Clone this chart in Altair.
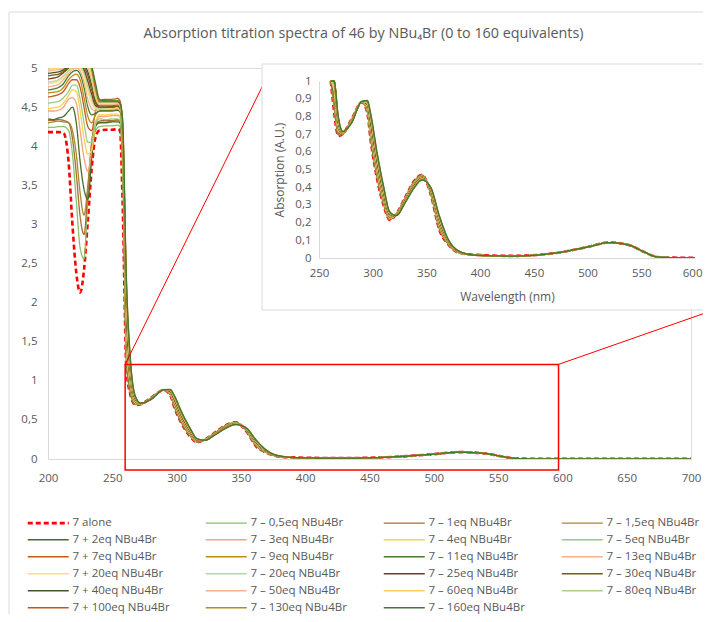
import altair as alt
import pandas as pd

# ---------------- data ----------------
WL_UV = [200, 204, 208, 212, 216, 219, 222, 225, 228, 231, 234, 237, 240, 245, 250, 254, 256, 258]
WL_VIS = [261, 264, 268, 272, 280, 290, 295, 298, 304, 310, 316, 322, 330, 338, 346, 354, 362, 370,
          380, 395, 430, 470, 500, 520, 540, 552, 565, 580, 700]

LABELS = ["7 alone", "7 – 0,5eq NBu4Br", "7 – 1eq NBu4Br", "7 – 1,5eq NBu4Br",
          "7 + 2eq NBu4Br", "7 – 3eq NBu4Br", "7 – 4eq NBu4Br", "7 – 5eq NBu4Br",
          "7 + 7eq NBu4Br", "7 – 9eq NBu4Br", "7 – 11eq NBu4Br", "7 – 13eq NBu4Br",
          "7 + 20eq NBu4Br", "7 – 20eq NBu4Br", "7 – 25eq NBu4Br", "7 – 30eq NBu4Br",
          "7 + 40eq NBu4Br", "7 – 50eq NBu4Br", "7 – 60eq NBu4Br", "7 – 80eq NBu4Br",
          "7 + 100eq NBu4Br", "7 – 130eq NBu4Br", "7 – 160eq NBu4Br"]
COLORS = ["#FF0000", "#8BC06A", "#A86B3A", "#A8892E", "#4A6B2E", "#F2A47A", "#FFD14F", "#9CCB7E",
          "#C4591A", "#BE8E12", "#467A32", "#F5B08B", "#FFDB7A", "#B4D7A0", "#7A3A0E", "#7A5A0E",
          "#3D5A28", "#F7B48F", "#FFD25A", "#A9D18E", "#C0581A", "#B88B1C", "#3F7A2E"]

# absorbance, UV part (WL_UV)
uv_alone = [4.18, 4.18, 4.18, 4.17, 3.80, 3.00, 2.38, 2.13, 2.42, 3.05, 3.72, 4.12, 4.20, 4.21, 4.21, 4.22, 4.20, 3.30]
uv_05 = [4.24, 4.24, 4.25, 4.25, 4.20, 3.90, 3.30, 2.70, 2.56, 3.35, 3.95, 4.20, 4.25, 4.26, 4.26, 4.27, 4.25, 3.70]
uv_1 = [4.33, 4.33, 4.34, 4.33, 4.30, 4.10, 3.65, 3.10, 2.87, 3.45, 4.05, 4.28, 4.32, 4.33, 4.33, 4.34, 4.32, 3.85]
uv_15 = [4.30, 4.31, 4.32, 4.31, 4.30, 4.20, 3.90, 3.40, 3.12, 3.50, 4.05, 4.28, 4.30, 4.31, 4.32, 4.33, 4.30, 3.90]
uv_2 = [4.35, 4.34, 4.36, 4.38, 4.45, 4.50, 4.30, 3.80, 3.45, 3.32, 3.85, 4.25, 4.30, 4.30, 4.31, 4.31, 4.30, 3.95]
uv_3 = [4.45, 4.45, 4.46, 4.50, 4.60, 4.62, 4.55, 4.20, 3.85, 3.68, 3.95, 4.30, 4.38, 4.38, 4.39, 4.39, 4.37, 4.00]
uv_4 = [4.48, 4.49, 4.50, 4.55, 4.65, 4.72, 4.70, 4.45, 4.10, 3.90, 3.95, 4.30, 4.40, 4.40, 4.41, 4.41, 4.38, 4.00]
uv_5 = [4.55, 4.56, 4.57, 4.62, 4.70, 4.78, 4.78, 4.60, 4.30, 4.05, 4.05, 4.30, 4.35, 4.34, 4.35, 4.35, 4.33, 4.00]
uv_7 = [4.63, 4.64, 4.66, 4.70, 4.80, 4.85, 4.85, 4.75, 4.50, 4.25, 4.20, 4.45, 4.58, 4.60, 4.60, 4.61, 4.58, 4.20]
uv_9 = [4.68, 4.69, 4.70, 4.75, 4.85, 4.90, 4.92, 4.85, 4.62, 4.38, 4.30, 4.40, 4.45, 4.46, 4.46, 4.47, 4.45, 4.10]
uv_11 = [4.72, 4.73, 4.75, 4.80, 4.90, 4.95, 4.97, 4.92, 4.75, 4.50, 4.40, 4.42, 4.45, 4.45, 4.45, 4.46, 4.44, 4.10]
uv_13 = [4.76, 4.77, 4.79, 4.85, 4.93, 4.98, 5.00, 4.96, 4.82, 4.60, 4.48, 4.45, 4.47, 4.47, 4.48, 4.48, 4.46, 4.15]
uv_20a = [4.80, 4.81, 4.83, 4.88, 4.95, 5.00, 5.02, 5.00, 4.90, 4.70, 4.55, 4.48, 4.48, 4.48, 4.49, 4.49, 4.47, 4.15]
uv_20b = [4.82, 4.83, 4.85, 4.90, 4.97, 5.02, 5.04, 5.02, 4.94, 4.76, 4.60, 4.50, 4.48, 4.49, 4.50, 4.50, 4.48, 4.20]
uv_25 = [4.86, 4.87, 4.89, 4.94, 5.00, 5.04, 5.06, 5.05, 4.98, 4.83, 4.66, 4.52, 4.50, 4.50, 4.50, 4.51, 4.49, 4.20]
uv_30 = [4.90, 4.91, 4.92, 4.96, 5.02, 5.06, 5.08, 5.07, 5.02, 4.90, 4.72, 4.55, 4.50, 4.50, 4.51, 4.51, 4.49, 4.20]
uv_40 = [4.93, 4.94, 4.95, 4.98, 5.04, 5.08, 5.10, 5.10, 5.05, 4.95, 4.78, 4.58, 4.52, 4.52, 4.52, 4.53, 4.50, 4.25]
uv_50 = [4.96, 4.97, 4.98, 5.00, 5.06, 5.10, 5.12, 5.12, 5.08, 5.00, 4.84, 4.62, 4.53, 4.53, 4.53, 4.54, 4.51, 4.25]
uv_60 = [4.98, 4.99, 5.00, 5.02, 5.08, 5.12, 5.14, 5.14, 5.10, 5.04, 4.90, 4.66, 4.55, 4.55, 4.55, 4.55, 4.52, 4.25]
uv_80 = [5.00, 5.01, 5.02, 5.04, 5.10, 5.14, 5.16, 5.16, 5.13, 5.08, 4.95, 4.70, 4.56, 4.56, 4.56, 4.56, 4.53, 4.30]
uv_100 = [5.02, 5.03, 5.04, 5.06, 5.12, 5.16, 5.18, 5.18, 5.15, 5.10, 4.98, 4.74, 4.57, 4.57, 4.57, 4.57, 4.54, 4.30]
uv_130 = [5.04, 5.05, 5.06, 5.08, 5.14, 5.18, 5.20, 5.20, 5.17, 5.12, 5.00, 4.77, 4.58, 4.58, 4.58, 4.58, 4.55, 4.30]
uv_160 = [5.06, 5.07, 5.08, 5.10, 5.16, 5.20, 5.22, 5.22, 5.19, 5.14, 5.02, 4.80, 4.60, 4.58, 4.58, 4.58, 4.55, 4.35]

# absorbance, visible part (WL_VIS)
vis_alone = [1.15, 0.83, 0.69, 0.70, 0.78, 0.88, 0.82, 0.67, 0.45, 0.30, 0.215, 0.25, 0.34, 0.43, 0.47, 0.36, 0.16, 0.08, 0.03,
             0.018, 0.012, 0.028, 0.062, 0.088, 0.07, 0.036, 0.006, 0.002, 0.001]
vis_05 = [1.20, 0.85, 0.695, 0.701, 0.779, 0.880, 0.823, 0.677, 0.457, 0.305, 0.217, 0.250, 0.339, 0.428, 0.469, 0.362, 0.164, 0.081, 0.030,
          0.016, 0.011, 0.028, 0.062, 0.087, 0.07, 0.036, 0.006, 0.002, 0.001]
vis_1 = [1.25, 0.87, 0.700, 0.701, 0.778, 0.880, 0.826, 0.684, 0.464, 0.310, 0.219, 0.249, 0.337, 0.426, 0.467, 0.364, 0.167, 0.083, 0.031,
         0.016, 0.011, 0.028, 0.062, 0.087, 0.07, 0.036, 0.006, 0.002, 0.001]
vis_15 = [1.31, 0.89, 0.705, 0.702, 0.777, 0.881, 0.830, 0.690, 0.470, 0.315, 0.221, 0.249, 0.336, 0.425, 0.466, 0.365, 0.171, 0.084, 0.031,
          0.016, 0.011, 0.028, 0.062, 0.087, 0.07, 0.036, 0.006, 0.002, 0.001]
vis_2 = [1.36, 0.92, 0.710, 0.703, 0.776, 0.881, 0.833, 0.697, 0.477, 0.320, 0.223, 0.248, 0.335, 0.423, 0.465, 0.367, 0.175, 0.085, 0.032,
         0.016, 0.011, 0.028, 0.062, 0.087, 0.07, 0.036, 0.006, 0.002, 0.001]
vis_3 = [1.41, 0.94, 0.715, 0.703, 0.775, 0.881, 0.836, 0.704, 0.484, 0.325, 0.225, 0.248, 0.333, 0.421, 0.463, 0.369, 0.178, 0.087, 0.032,
         0.016, 0.011, 0.028, 0.062, 0.087, 0.07, 0.036, 0.006, 0.002, 0.001]
vis_4 = [1.46, 0.96, 0.720, 0.704, 0.775, 0.881, 0.839, 0.711, 0.491, 0.330, 0.227, 0.247, 0.332, 0.419, 0.462, 0.371, 0.182, 0.088, 0.033,
         0.016, 0.011, 0.028, 0.062, 0.087, 0.07, 0.036, 0.006, 0.002, 0.001]
vis_5 = [1.52, 0.98, 0.725, 0.705, 0.774, 0.882, 0.842, 0.718, 0.498, 0.335, 0.229, 0.247, 0.330, 0.417, 0.460, 0.373, 0.185, 0.090, 0.033,
         0.016, 0.011, 0.028, 0.062, 0.087, 0.07, 0.036, 0.006, 0.002, 0.001]
vis_7 = [1.57, 1.00, 0.730, 0.705, 0.773, 0.882, 0.845, 0.725, 0.505, 0.340, 0.231, 0.246, 0.329, 0.415, 0.459, 0.375, 0.189, 0.091, 0.034,
         0.016, 0.011, 0.028, 0.062, 0.087, 0.07, 0.036, 0.006, 0.002, 0.001]
vis_9 = [1.62, 1.02, 0.735, 0.706, 0.772, 0.882, 0.849, 0.731, 0.511, 0.345, 0.233, 0.246, 0.328, 0.414, 0.458, 0.376, 0.193, 0.092, 0.034,
         0.016, 0.011, 0.028, 0.062, 0.087, 0.07, 0.036, 0.006, 0.002, 0.001]
vis_11 = [1.67, 1.04, 0.740, 0.707, 0.771, 0.882, 0.852, 0.738, 0.518, 0.350, 0.235, 0.245, 0.326, 0.412, 0.456, 0.378, 0.196, 0.094, 0.035,
          0.016, 0.011, 0.028, 0.062, 0.087, 0.07, 0.036, 0.006, 0.002, 0.001]
vis_13 = [1.73, 1.07, 0.745, 0.708, 0.770, 0.882, 0.855, 0.745, 0.525, 0.355, 0.237, 0.245, 0.325, 0.410, 0.455, 0.380, 0.200, 0.095, 0.035,
          0.016, 0.011, 0.028, 0.062, 0.087, 0.07, 0.036, 0.006, 0.002, 0.001]
vis_20a = [1.78, 1.09, 0.750, 0.708, 0.769, 0.883, 0.858, 0.752, 0.532, 0.360, 0.240, 0.245, 0.324, 0.408, 0.454, 0.382, 0.204, 0.096, 0.035,
           0.016, 0.011, 0.028, 0.062, 0.087, 0.07, 0.036, 0.006, 0.002, 0.001]
vis_20b = [1.83, 1.11, 0.755, 0.709, 0.768, 0.883, 0.861, 0.759, 0.539, 0.365, 0.242, 0.244, 0.322, 0.406, 0.452, 0.384, 0.207, 0.098, 0.036,
           0.016, 0.011, 0.028, 0.062, 0.087, 0.07, 0.036, 0.006, 0.002, 0.001]
vis_25 = [1.88, 1.13, 0.760, 0.710, 0.767, 0.883, 0.865, 0.765, 0.545, 0.370, 0.244, 0.244, 0.321, 0.405, 0.451, 0.385, 0.211, 0.099, 0.036,
          0.016, 0.011, 0.028, 0.062, 0.087, 0.07, 0.036, 0.006, 0.002, 0.001]
vis_30 = [1.93, 1.15, 0.765, 0.710, 0.766, 0.883, 0.868, 0.772, 0.552, 0.375, 0.246, 0.243, 0.320, 0.403, 0.450, 0.387, 0.215, 0.100, 0.037,
          0.016, 0.011, 0.028, 0.062, 0.087, 0.07, 0.036, 0.006, 0.002, 0.001]
vis_40 = [1.99, 1.17, 0.770, 0.711, 0.765, 0.884, 0.871, 0.779, 0.559, 0.380, 0.248, 0.243, 0.318, 0.401, 0.448, 0.389, 0.218, 0.102, 0.037,
          0.016, 0.011, 0.028, 0.062, 0.087, 0.07, 0.036, 0.006, 0.002, 0.001]
vis_50 = [2.04, 1.19, 0.775, 0.712, 0.765, 0.884, 0.874, 0.786, 0.566, 0.385, 0.250, 0.242, 0.317, 0.399, 0.447, 0.391, 0.222, 0.103, 0.038,
          0.016, 0.011, 0.028, 0.062, 0.087, 0.07, 0.036, 0.006, 0.002, 0.001]
vis_60 = [2.09, 1.21, 0.780, 0.712, 0.764, 0.884, 0.877, 0.793, 0.573, 0.390, 0.252, 0.242, 0.315, 0.397, 0.445, 0.393, 0.225, 0.105, 0.038,
          0.016, 0.011, 0.028, 0.062, 0.087, 0.07, 0.036, 0.006, 0.002, 0.001]
vis_80 = [2.14, 1.24, 0.785, 0.713, 0.763, 0.884, 0.880, 0.800, 0.580, 0.395, 0.254, 0.241, 0.314, 0.395, 0.444, 0.395, 0.229, 0.106, 0.039,
          0.016, 0.011, 0.028, 0.062, 0.087, 0.07, 0.036, 0.006, 0.002, 0.001]
vis_100 = [2.20, 1.26, 0.790, 0.714, 0.762, 0.885, 0.884, 0.806, 0.586, 0.400, 0.256, 0.241, 0.313, 0.394, 0.443, 0.396, 0.233, 0.107, 0.039,
           0.016, 0.011, 0.028, 0.062, 0.087, 0.07, 0.036, 0.006, 0.002, 0.001]
vis_130 = [2.25, 1.28, 0.795, 0.714, 0.761, 0.885, 0.887, 0.813, 0.593, 0.405, 0.258, 0.240, 0.311, 0.392, 0.441, 0.398, 0.236, 0.109, 0.040,
           0.016, 0.011, 0.028, 0.062, 0.087, 0.07, 0.036, 0.006, 0.002, 0.001]
vis_160 = [2.30, 1.30, 0.800, 0.715, 0.760, 0.885, 0.890, 0.820, 0.600, 0.410, 0.260, 0.240, 0.310, 0.390, 0.440, 0.400, 0.240, 0.110, 0.040,
           0.016, 0.011, 0.028, 0.062, 0.087, 0.07, 0.036, 0.006, 0.002, 0.001]

UV_SERIES = [uv_alone, uv_05, uv_1, uv_15, uv_2, uv_3, uv_4, uv_5, uv_7, uv_9, uv_11, uv_13,
             uv_20a, uv_20b, uv_25, uv_30, uv_40, uv_50, uv_60, uv_80, uv_100, uv_130, uv_160]
VIS_SERIES = [vis_alone, vis_05, vis_1, vis_15, vis_2, vis_3, vis_4, vis_5, vis_7, vis_9, vis_11, vis_13,
              vis_20a, vis_20b, vis_25, vis_30, vis_40, vis_50, vis_60, vis_80, vis_100, vis_130, vis_160]

# zoom window drawn on the main chart (data units)
ZOOM_X = [260, 597]
ZOOM_Y = [-0.14, 1.21]

rows = []
for i, (lab, uv, vis) in enumerate(zip(LABELS, UV_SERIES, VIS_SERIES)):
    for w, a in zip(WL_UV + WL_VIS, uv + vis):
        rows.append({"idx": i, "label": lab, "wl": w, "absorb": a})
df = pd.DataFrame(rows)
df_red = df[df.idx == 0]
df_tit = df[df.idx > 0]
df_red_in = df_red[df_red.wl >= 261]
df_tit_in = df_tit[df_tit.wl >= 261]

zoom_df = pd.DataFrame({"x0": [ZOOM_X[0]], "x1": [ZOOM_X[1]], "y0": [ZOOM_Y[0]], "y1": [ZOOM_Y[1]]})
one = pd.DataFrame({"a": [0]})

# ---------------- style ----------------
FONT = "Open Sans"
GRAY = "#595959"
LINE_GRAY = "#D9D9D9"
W, H = 643, 391

LEG = alt.Legend(title=None, orient="none", legendX=-24, legendY=449, columns=4, direction="horizontal",
                 symbolType="M-1,0H19.5", symbolSize=16, labelOffset=37,
                 labelFont=FONT, labelFontSize=11.5, labelColor=GRAY,
                 rowPadding=4, columnPadding=32, gridAlign="all", labelLimit=300, symbolLimit=40)

color_enc = alt.Color("label:N", scale=alt.Scale(domain=LABELS, range=COLORS), legend=LEG)
dash_enc = alt.StrokeDash("label:N", scale=alt.Scale(domain=LABELS, range=[[5, 3]] + [[1, 0]] * 22), legend=LEG)
width_enc = alt.StrokeWidth("label:N", scale=alt.Scale(type="ordinal", domain=LABELS, range=[2.6] + [1.3] * 22),
                            legend=LEG)

AX_X = alt.Axis(title=None, values=list(range(200, 701, 50)), grid=False, ticks=False, labelFlush=False,
                domainColor=LINE_GRAY, labelColor=GRAY, labelFont=FONT, labelFontSize=11.5,
                labelPadding=13)
AX_Y = alt.Axis(title=None, values=[i * 0.5 for i in range(11)], grid=False, ticks=False,
                domainColor=LINE_GRAY, labelColor=GRAY, labelFont=FONT, labelFontSize=11.5,
                labelPadding=11, labelExpr="replace(format(datum.value, '.1~f'), '.', ',')")
SX = alt.Scale(domain=[200, 700], nice=False, zero=False)
SY = alt.Scale(domain=[0, 5], nice=False)


def XM(f):
    return alt.X(f"{f}:Q", scale=SX, axis=AX_X)


def YM(f):
    return alt.Y(f"{f}:Q", scale=SY, axis=AX_Y)


# ---------------- main chart ----------------
frame = alt.Chart(one).mark_rect(fill=None, stroke=LINE_GRAY, strokeWidth=1).encode(
    x=alt.value(-39), x2=alt.value(760), y=alt.value(-56), y2=alt.value(760))

red_main = alt.Chart(df_red).mark_line(interpolate="monotone", clip=True).encode(
    x=XM("wl"), y=YM("absorb"), color=color_enc, strokeDash=dash_enc, strokeWidth=width_enc,
    order=alt.Order("wl:Q"))
tit_main = alt.Chart(df_tit).mark_line(interpolate="monotone", clip=True).encode(
    x=XM("wl"), y=YM("absorb"), color=color_enc, strokeDash=dash_enc, strokeWidth=width_enc,
    detail="idx:O", order=alt.Order("wl:Q"))

zoom_rect = alt.Chart(zoom_df).mark_rect(fill=None, stroke="#FF0000", strokeWidth=1.5).encode(
    x=XM("x0"), x2="x1:Q", y=YM("y0"), y2="y1:Q")
conn1 = alt.Chart(zoom_df).mark_rule(color="#FF0000", strokeWidth=1).encode(
    x=XM("x0"), y=YM("y1"), x2=alt.value(214), y2=alt.value(19))
conn2 = alt.Chart(zoom_df).mark_rule(color="#FF0000", strokeWidth=1).encode(
    x=XM("x1"), y=YM("y1"), x2=alt.value(663), y2=alt.value(243))

main = alt.layer(frame, red_main, tit_main, zoom_rect, conn1, conn2)

# ---------------- inset ----------------
IX = alt.Scale(domain=[250, 600], range=[271, 647], clamp=True, nice=False, zero=False)
IY = alt.Scale(domain=[0, 1], range=[190, 13], clamp=True, nice=False)
AX_IX = alt.Axis(title="Wavelength (nm)", orient="bottom", offset=-201, values=list(range(250, 601, 50)),
                 grid=False, ticks=False, labelFlush=False, domainColor=LINE_GRAY, labelColor=GRAY,
                 labelFont=FONT, labelFontSize=11.5, labelPadding=9, titleFont=FONT, titleFontSize=12,
                 titleFontWeight="normal", titleColor=GRAY, titlePadding=13, zindex=2,
                 labelAlign={"condition": {"test": "datum.value >= 600", "value": "right"}, "value": "center"},
                 labelOffset={"condition": {"test": "datum.value >= 600", "value": 7}, "value": 0})
AX_IY = alt.Axis(title="Absorption (A.U.)", orient="left", offset=-271,
                 values=[round(i * 0.1, 1) for i in range(11)],
                 grid=False, ticks=False, domainColor=LINE_GRAY, labelColor=GRAY, labelFont=FONT,
                 labelFontSize=11.5, labelPadding=8, titleFont=FONT, titleFontSize=12,
                 titleFontWeight="normal", titleColor=GRAY, titlePadding=8, zindex=2,
                 labelExpr="replace(format(datum.value, '.1~f'), '.', ',')")

inset_bg = alt.Chart(one).mark_rect(fill="white", stroke=LINE_GRAY, strokeWidth=1).encode(
    x=alt.value(214), x2=alt.value(720), y=alt.value(-4), y2=alt.value(242))
red_in = alt.Chart(df_red_in).mark_line(interpolate="monotone").encode(
    x=alt.X("wl:Q", scale=IX, axis=AX_IX), y=alt.Y("absorb:Q", scale=IY, axis=AX_IY),
    color=color_enc, strokeDash=dash_enc, strokeWidth=width_enc, order=alt.Order("wl:Q"))
tit_in = alt.Chart(df_tit_in).mark_line(interpolate="monotone").encode(
    x=alt.X("wl:Q", scale=IX, axis=AX_IX), y=alt.Y("absorb:Q", scale=IY, axis=AX_IY),
    color=color_enc, strokeDash=dash_enc, strokeWidth=width_enc, detail="idx:O",
    order=alt.Order("wl:Q"))

inset = alt.layer(inset_bg, red_in, tit_in)

chart = alt.layer(main, inset).resolve_scale(x="independent", y="independent").properties(
    width=W, height=H,
    padding={"left": 40, "top": 60, "right": 12, "bottom": 155},
    autosize=alt.AutoSizeParams(type="none"),
    title=alt.TitleParams(text="Absorption titration spectra of 46 by NBu₄Br (0 to 160 equivalents)",
                          font=FONT, fontSize=14.3, fontWeight="normal", color=GRAY,
                          anchor="middle", frame="group", offset=-30, dx=-6),
).configure_view(stroke=None).configure(background="white")

chart.save("out.html", embed_options={"renderer": "svg", "actions": False})
